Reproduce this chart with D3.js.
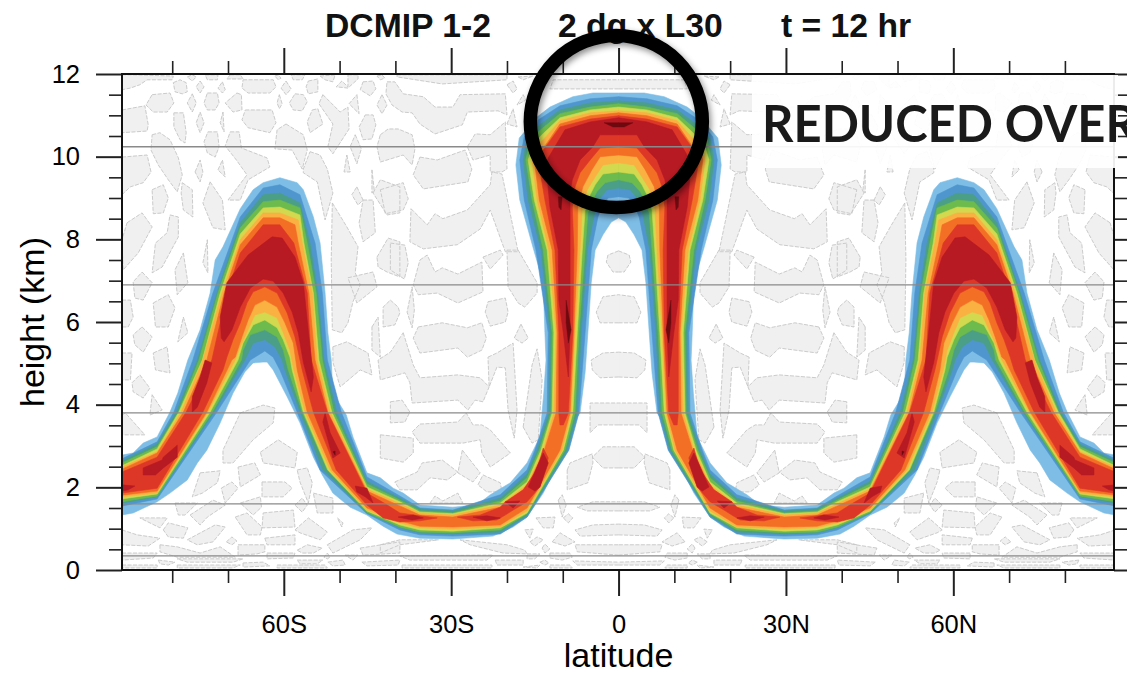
<!DOCTYPE html>
<html>
<head>
<meta charset="utf-8">
<script src="https://cdn.jsdelivr.net/npm/d3@7"></script>
<style>
  html, body { margin: 0; padding: 0; background: #fff; overflow: hidden; }
  text { font-family: "Liberation Sans", Arial, sans-serif; }
</style>
</head>
<body>
<svg id="chart" width="1127" height="673"></svg>
<script>
// all outlines are [lat, height km], southern half only, the north is drawn as its mirror image

const yMajor = [0, 2, 4, 6, 8, 10, 12];
const yMinor = [0.5, 1, 1.5, 2.5, 3, 3.5, 4.5, 5, 5.5, 6.5, 7, 7.5, 8.5, 9, 9.5, 10.5, 11, 11.5];
const xMajor = [-60, -30, 0, 30, 60];
const xMajorLabels = ["60S", "30S", "0", "30N", "60N"];
const xMinor = [-80, -70, -50, -40, -20, -10, 10, 20, 40, 50, 70, 80];
const modelLevels = [10.24, 6.90, 3.80, 1.60, 0.34];
const titleParts = ["DCMIP 1-2", "2 dg x L30", "t = 12 hr"];
const bandColors = ["#7dbde6", "#4f96cf", "#4a9f86", "#6cbb4c", "#d2d94e", "#fbb042", "#f36f25", "#dd3727", "#b71a23", "#6d0a10"];

const band1Top = [[-89,2.78],[-87,2.83],[-85.2,3.07],[-82.7,3.22],[-81.6,3.51],[-80.4,3.82],[-79,4.28],[-77.2,5.08],[-75,5.81],[-73.2,6.7],[-72.3,7.5],[-70.9,7.82],[-67.8,8.74],[-65.5,9.2],[-63.7,9.37],[-60.7,9.49],[-57.6,9.37],[-56.5,9.2],[-54.7,8.54],[-53.5,7.91],[-52.6,6.7],[-52.1,5.74],[-51.5,5.08],[-51.2,4.28],[-48.8,3.75],[-47.6,3.22],[-45.1,2.35],[-42.7,2.23],[-40.4,1.98],[-38.6,1.86],[-35.6,1.57],[-29.7,1.52],[-25.4,1.57],[-23,1.82],[-19.4,2.11],[-16.4,2.59],[-14.1,3.22],[-13.4,4.28],[-13,5.08],[-13.2,5.74],[-13.5,6.95],[-15.3,7.79],[-17.7,8.95],[-18.4,9.8],[-17.8,10.45],[-14.6,10.96],[-12.3,11.2],[-8.2,11.45],[-4.6,11.54],[0,11.54]];
const band1Bottom = [[-89,1.33],[-87,1.38],[-82.7,1.65],[-80.4,1.86],[-77.3,2.18],[-75.5,2.59],[-73.8,2.9],[-71.4,3.56],[-69.1,4.28],[-67,4.79],[-65.5,5.01],[-63.7,5.03],[-63,5.03],[-61.9,4.84],[-59.4,4.19],[-57.1,3.56],[-54.7,2.73],[-53.1,2.3],[-51.2,1.86],[-48.1,1.52],[-45.1,1.33],[-42.2,1.06],[-39.7,0.87],[-35.6,0.77],[-29.7,0.75],[-22.5,0.82],[-18.9,1.04],[-16.4,1.28],[-13.5,1.86],[-11.7,2.35],[-10.1,2.9],[-9,3.39],[-6.9,3.8],[-6,4.77],[-5.5,5.74],[-4.9,6.95],[-4.2,7.74],[-2.8,8.11],[-1.3,8.42],[0,8.52]];
const band2Top = [[-89,2.69],[-82.7,3.1],[-79.7,3.82],[-76.3,5.08],[-72.7,6.7],[-67.8,8.54],[-63.7,9.24],[-60.7,9.32],[-57.1,9.08],[-54.4,7.91],[-53.1,6.7],[-52.2,5.08],[-49.7,3.82],[-45.1,2.25],[-39.2,1.79],[-35.6,1.5],[-29.7,1.45],[-21.2,1.82],[-16.4,2.42],[-15,2.9],[-12.8,3.8],[-12.6,5.74],[-14.8,7.74],[-16.9,8.95],[-17.7,9.92],[-16.9,10.48],[-14.4,10.89],[-10.5,11.23],[-5.1,11.4],[0,11.45]];
const band2Bottom = [[-89,1.55],[-82.7,1.72],[-72,3.82],[-66,5.08],[-63.4,5.3],[-61.9,5.15],[-60.7,4.84],[-57.6,3.82],[-53.5,2.42],[-45.1,1.36],[-39.2,0.97],[-35.6,0.85],[-29.7,0.82],[-21.2,0.87],[-16.4,1.28],[-8.9,2.9],[-7.1,3.8],[-6,5.74],[-4.9,7.74],[-3.7,8.54],[-3,8.78],[-1.9,9],[0,9.03]];
const band3Top = [[-89,2.64],[-82.7,3.05],[-79.3,3.82],[-75.5,5.08],[-72,6.7],[-67.8,8.4],[-63.7,9.08],[-60.7,9.12],[-57.1,8.88],[-55.3,7.91],[-53.9,6.7],[-52.8,5.08],[-50.5,3.82],[-45.1,2.15],[-39.2,1.74],[-35.6,1.48],[-29.7,1.43],[-21.2,1.74],[-16.4,2.32],[-14.6,2.9],[-12.5,3.8],[-12.3,5.74],[-13.9,7.74],[-16.2,8.95],[-17.1,9.92],[-16.4,10.43],[-14.4,10.74],[-10.5,11.13],[-5.1,11.3],[0,11.35]];
const band3Bottom = [[-89,1.62],[-82.7,1.77],[-72.5,3.82],[-67,5.08],[-65.5,5.49],[-63.4,5.57],[-61.6,5.4],[-60.3,5.08],[-59.8,4.84],[-57.1,3.82],[-53,2.42],[-45.1,1.38],[-39.2,1.02],[-35.6,0.9],[-29.7,0.87],[-21.2,0.92],[-16.4,1.31],[-9.2,2.9],[-7.4,3.8],[-6.7,5.74],[-5.6,7.74],[-4.2,8.71],[-3.3,9],[-2.1,9.2],[0,9.24]];
const band4Top = [[-89,2.59],[-82.7,2.98],[-78.9,3.82],[-75.2,5.08],[-71.8,6.7],[-67.8,8.28],[-63.7,8.91],[-60.7,8.95],[-57.1,8.76],[-55.8,7.91],[-54.2,6.7],[-53.1,5.08],[-51,3.82],[-45.1,2.08],[-39.2,1.69],[-35.6,1.43],[-29.7,1.38],[-21.2,1.67],[-16.4,2.23],[-14.2,2.9],[-12.1,3.8],[-11.9,5.74],[-13.5,7.74],[-15.5,8.95],[-16.6,9.92],[-15.9,10.38],[-14.4,10.6],[-10.5,11.04],[-5.1,11.2],[0,11.28]];
const band4Bottom = [[-89,1.65],[-82.7,1.79],[-72.8,3.82],[-67.6,5.08],[-67.3,5.32],[-66,5.69],[-63.4,5.81],[-61.2,5.64],[-60.1,5.32],[-59.2,4.84],[-56.7,3.82],[-52.2,2.42],[-45.1,1.4],[-39.2,1.04],[-35.6,0.92],[-29.7,0.9],[-21.2,0.97],[-16.4,1.36],[-9.6,2.9],[-7.8,3.8],[-7.1,5.74],[-6,7.74],[-5.5,8.64],[-4.8,8.91],[-3.9,9.15],[-2.4,9.37],[0,9.44]];
const band5Top = [[-89,2.52],[-82.7,2.93],[-78.8,3.82],[-74.6,5.08],[-71.4,6.7],[-67.8,8.13],[-63.7,8.76],[-60.7,8.78],[-57.1,8.59],[-56.4,7.91],[-54.7,6.7],[-53.7,5.08],[-51.4,3.82],[-45.1,2.01],[-39.2,1.65],[-35.6,1.4],[-29.7,1.36],[-21.2,1.62],[-16.4,2.13],[-13.9,2.9],[-11.9,3.8],[-11.6,5.74],[-12.8,7.74],[-15.1,8.95],[-16.2,9.92],[-15.3,10.31],[-14.1,10.48],[-10.5,10.94],[-5.1,11.13],[0,11.2]];
const band5Bottom = [[-89,1.72],[-82.7,1.84],[-73.2,3.82],[-68.2,5.08],[-67.3,5.49],[-65.5,5.93],[-63.4,6.05],[-61.2,5.86],[-60.1,5.57],[-58.9,5.15],[-58.5,4.84],[-56.5,3.82],[-52.1,2.42],[-45.1,1.43],[-39.2,1.09],[-35.6,0.97],[-29.7,0.94],[-21.2,1.02],[-16.4,1.38],[-9.9,2.9],[-8.2,3.8],[-7.4,5.74],[-6.5,7.74],[-6,8.71],[-5.1,9.08],[-4.2,9.32],[-2.8,9.58],[0,9.63]];
const band6Top = [[-89,2.49],[-82.7,2.86],[-78.4,3.82],[-74.5,5.08],[-71.1,6.7],[-67.8,7.99],[-63.7,8.64],[-60.7,8.64],[-57.4,8.47],[-56.7,7.91],[-54.9,6.7],[-54,5.08],[-51.7,3.82],[-45.1,1.96],[-39.2,1.6],[-35.6,1.38],[-29.7,1.33],[-21.2,1.57],[-16.4,2.06],[-13.5,2.9],[-11.6,3.8],[-11.2,5.74],[-12.5,7.74],[-14.6,8.95],[-15.5,9.92],[-15,10.26],[-13.7,10.38],[-10.5,10.87],[-5.1,11.06],[0,11.11]];
const band6Bottom = [[-89,1.77],[-82.7,1.86],[-73.6,3.82],[-68.7,5.08],[-67.8,5.4],[-66.4,5.81],[-65.2,6.17],[-63.4,6.24],[-61.2,6.1],[-60.1,5.74],[-58.9,5.32],[-58.2,4.84],[-56.2,3.82],[-51.7,2.42],[-45.1,1.45],[-39.2,1.14],[-35.6,1.02],[-29.7,0.99],[-21.2,1.04],[-16.4,1.43],[-10.1,2.9],[-8.5,3.8],[-7.8,5.74],[-6.9,7.74],[-6.5,8.78],[-5.6,9.2],[-4.2,9.51],[-2.8,9.8],[0,9.85]];
const band7Top = [[-89,2.44],[-82.7,2.83],[-78,3.82],[-73.8,5.08],[-70.7,6.7],[-67.8,7.87],[-63.7,8.52],[-60.7,8.52],[-58,8.35],[-57.4,7.91],[-55.5,6.7],[-54.4,5.08],[-52.1,3.82],[-45.1,1.91],[-39.2,1.55],[-35.6,1.33],[-29.7,1.28],[-21.2,1.52],[-16.4,2.01],[-13.3,2.9],[-11.2,3.8],[-11,5.74],[-11.9,7.74],[-14.2,8.95],[-15.1,9.92],[-14.6,10.19],[-13.2,10.26],[-10.5,10.79],[-5.1,10.99],[0,11.06]];
const band7Bottom = [[-89,1.81],[-82.7,1.91],[-73.8,3.82],[-69.3,5.08],[-68.7,5.15],[-67.5,5.64],[-66.4,6.05],[-65.2,6.41],[-63.4,6.53],[-61.2,6.36],[-59.8,5.98],[-58.3,5.49],[-57.6,4.84],[-55.8,3.82],[-51.3,2.42],[-45.1,1.5],[-39.2,1.19],[-35.6,1.06],[-29.7,1.04],[-21.2,1.09],[-16.4,1.5],[-10.5,2.9],[-8.7,3.8],[-8,5.74],[-7.4,7.74],[-7.3,8.78],[-6.4,9.27],[-4.8,9.68],[-3.3,10],[0,10.04]];

const band8Patches = [
  [[-89,2.37],[-82.7,2.73],[-77.5,3.82],[-72.9,5.08],[-70.2,6.7],[-67.8,7.67],[-63.7,8.35],[-60.7,8.35],[-58.2,7.91],[-55.8,6.7],[-55.1,5.08],[-52.2,3.82],[-45.1,1.86],[-41.8,1.6],[-39.2,1.38],[-35.6,1.31],[-32.5,1.26],[-35.6,1.19],[-39.2,1.16],[-42.2,1.26],[-45.1,1.57],[-50.6,2.42],[-54.7,3.82],[-56.7,4.84],[-57.1,5.08],[-58,5.64],[-59.4,6.22],[-61.2,6.7],[-63.4,6.85],[-65.5,6.73],[-66.6,6.46],[-67.8,5.98],[-69.1,5.57],[-70.2,5.15],[-70.9,4.84],[-74.5,3.82],[-82.7,1.98],[-89,1.86]],
  [[-28.9,1.28],[-24.8,1.33],[-21.2,1.52],[-20.3,1.65],[-17.1,1.94],[-15,2.35],[-14.1,2.66],[-13.5,2.95],[-12.6,2.71],[-14.1,2.01],[-16.4,1.65],[-18.9,1.45],[-20.3,1.33],[-21.8,1.21],[-26.1,1.19]],
  [[-10.5,3.51],[-10.7,3.8],[-10.7,5.74],[-11.4,7.74],[-13.2,8.95],[-14.4,9.92],[-13.7,10.12],[-10.5,10.72],[-5.1,10.91],[0,10.99],[0,10.24],[-3.3,10.21],[-5.1,9.92],[-6.9,9.61],[-7.8,9.27],[-8.3,8.78],[-8,7.74],[-8.2,5.74],[-9,3.8],[-9.9,3.51]]
];
const band9Patches = [
  [[-62.1,8.06],[-60.3,8.03],[-58,7.57],[-56.5,6.95],[-56,6.29],[-55.3,5.4],[-54.7,4.67],[-55.1,4.31],[-56.5,5.03],[-57.4,5.74],[-58.5,6.24],[-60.1,6.7],[-61.9,6.99],[-63.7,7.04],[-66,6.82],[-67.8,6.36],[-69.3,5.81],[-70.7,5.52],[-71.2,5.61],[-71.4,6.12],[-70.2,6.95],[-67.5,7.43],[-66.4,7.62]],
  [[-74.1,5.08],[-72.9,5.01],[-73.8,4.53],[-75.5,3.94],[-76.4,3.82],[-76.4,4.19],[-75,4.67]],
  [[-81.6,2.73],[-79.1,3.02],[-79.1,2.73],[-81.6,2.47],[-83,2.3],[-85.2,2.3],[-85.2,2.47],[-81.8,2.66]],
  [[-89,2.06],[-86.7,2.03],[-87.9,1.94],[-89,1.91]],
  [[-52.6,3.8],[-51.7,3.32],[-49.9,2.83],[-51.2,2.71],[-52.1,3.15],[-53,3.58]],
  [[-47.2,2.03],[-45.1,1.98],[-44,1.62],[-45.4,1.77],[-46.9,1.89]],
  [[-39.5,1.28],[-36.8,1.33],[-35,1.26],[-37,1.21]],
  [[-26.1,1.28],[-23.6,1.31],[-21.2,1.26],[-23.6,1.19]],
  [[-20.3,1.65],[-17.7,1.67],[-18.9,1.5]],
  [[-16.2,2.01],[-13.5,2.83],[-12.6,2.59],[-14.1,2.01],[-15,1.91]],
  [[0,10.94],[-5.1,10.84],[-9.6,10.65],[-12.6,9.97],[-13,9.8],[-12.3,8.78],[-10.8,7.74],[-10.7,6.53],[-9.9,5.74],[-9,4.67],[-8.7,5.74],[-8.7,7.74],[-8.7,9.12],[-8.3,9.44],[-6.9,9.92],[-4.6,10.24],[-3.3,10.53],[0,10.53]]
];
const band10Patches = [
  [[-2.6,10.82],[0,10.82],[0,10.72],[-1,10.72]],
  [[-9.4,6.53],[-9,6.22],[-8.5,5.81],[-9,5.49],[-9.4,5.98]],
  [[-10.8,9.03],[-10.1,9.03],[-10.3,8.71],[-10.7,8.78]],
  [[-51.2,2.86],[-50.8,2.88],[-50.8,2.78]]
];

// slightly negative tracer, the pale dashed cells
const negativeCells = [
  [[-89,11.98],[-87,11.98],[-79.8,11.95],[-80,11.86],[-84.5,11.86],[-85.8,11.74],[-87.5,11.66],[-89,11.62]],
  [[-79.8,11.79],[-78.6,11.86],[-77.5,11.79],[-77.3,11.57],[-78.2,11.52],[-79.5,11.57]],
  [[-75,11.83],[-74.3,11.69],[-75,11.54],[-75.7,11.69]],
  [[-71,11.81],[-70.5,11.62],[-71,11.54],[-71.8,11.66]],
  [[-67.3,11.86],[-61.9,11.86],[-61.4,11.69],[-62.5,11.54],[-66.4,11.54],[-67.5,11.66]],
  [[-76.4,11.98],[-75.7,11.93],[-76.4,11.83],[-77.3,11.93]],
  [[-74.1,11.98],[-71.8,11.98],[-71.9,11.86],[-73.7,11.86]],
  [[-69.6,11.98],[-67.8,11.98],[-67.3,11.88],[-70.2,11.88]],
  [[-89,11.13],[-84.9,11.23],[-84.3,10.77],[-84.5,10.62],[-89,10.58]],
  [[-83.6,11.5],[-80.4,11.54],[-79.7,11.3],[-80.9,11.08],[-83.4,11.08],[-84.7,11.25]],
  [[-76.4,11.52],[-75.7,11.3],[-76.4,11.08],[-77.3,11.3]],
  [[-73.7,11.54],[-71.9,11.54],[-71.6,11.3],[-72.3,11.13],[-73.7,11.13],[-74.3,11.3]],
  [[-68.4,11.54],[-67.6,11.5],[-67.5,11.13],[-69.1,11.08],[-70.5,11.3]],
  [[-60.8,11.5],[-60.3,11.28],[-60.8,11.16],[-61.2,11.3]],
  [[-79.7,11.06],[-78,11.06],[-77.5,10.58],[-77.7,10.33],[-78.6,10.41],[-79.7,10.72]],
  [[-75,11.08],[-74.3,10.82],[-75,10.58],[-75.7,10.82]],
  [[-70.9,11.08],[-70.7,10.6],[-71.4,10.82]],
  [[-66.9,11.13],[-62.1,11.13],[-61.4,10.82],[-62.5,10.58],[-66.4,10.7],[-67.5,10.89]],
  [[-73.6,10.6],[-71.9,10.6],[-71.6,10.24],[-72.3,9.99],[-73.7,10.09],[-74.3,10.36]],
  [[-69.6,10.6],[-68,10.6],[-67.6,10.21],[-63,9.97],[-62.5,9.75],[-66.4,9.44],[-67.8,8.95],[-70,8.95],[-66.6,9.56],[-68.5,9.92],[-70.5,10.26]],
  [[-89,9.99],[-84.5,10.04],[-83.8,9.63],[-85.2,9.37],[-87.5,9.27],[-89,9.08]],
  [[-83.6,10.53],[-82.2,10.58],[-80.4,10.41],[-78.9,9.97],[-78.2,9.56],[-79.1,9.15],[-80.7,9.44],[-82.5,9.8],[-83.8,10.16]],
  [[-83.6,9.2],[-81.6,9.32],[-80.7,9],[-81.6,8.64],[-83.4,8.62]],
  [[-78.2,9.37],[-76.4,9.2],[-76.3,8.54],[-78,8.71],[-78.4,9.12]],
  [[-75.9,9.63],[-75,9.92],[-74.5,9.63],[-75,9.39]],
  [[-73.2,9.39],[-71,8.95],[-70.5,8.23],[-72.7,8.28],[-74.5,8.88]],
  [[-71.8,9.68],[-71,9.92],[-70.5,9.51]],
  [[-61.6,11.95],[-61,11.98],[-60.5,11.9],[-61,11.86]],
  [[-58.7,11.98],[-56.2,11.98],[-56.7,11.86],[-58.3,11.86]],
  [[-53.5,11.95],[-50.8,11.98],[-51.2,11.81],[-52.6,11.86]],
  [[-48.5,11.98],[-46.7,11.98],[-46.7,11.88],[-48.5,11.66],[-50.6,11.69],[-49.6,11.83],[-48.5,11.69]],
  [[-59.6,11.83],[-58.7,11.64],[-59.6,11.5],[-60.5,11.66]],
  [[-55.6,11.83],[-53.9,11.88],[-53.9,11.57],[-55.6,11.52],[-56,11.69]],
  [[-45.8,11.81],[-44,11.83],[-43.5,11.64],[-44.5,11.47],[-46.3,11.62]],
  [[-43.3,11.95],[-42.4,11.98],[-41.9,11.9],[-42.7,11.86]],
  [[-41.5,11.81],[-40.1,11.81],[-38.6,11.52],[-35,11.45],[-32.9,11.2],[-29.7,11.2],[-28.4,11.5],[-20.3,11.52],[-20,11.01],[-21.6,11.11],[-27.1,11.08],[-28,10.77],[-32.9,10.55],[-35.6,10.79],[-37,11.06],[-38.8,11.08],[-40.6,11.25],[-41.7,11.52]],
  [[-39.7,11.98],[-20,11.98],[-20,11.86],[-31.6,11.76],[-39.7,11.93]],
  [[-58,11.52],[-56.5,11.5],[-55.8,11.33],[-56.7,11.11],[-58.3,11.13],[-59,11.3]],
  [[-53,11.5],[-49.9,11.08],[-48.5,11.2],[-48.3,10.67],[-51.2,10.07],[-52.1,10.24],[-51.2,10.79],[-53.7,11.28]],
  [[-46.9,11.5],[-46.5,11.04],[-48.3,11.28]],
  [[-42.4,11.5],[-41.5,11.25],[-42.4,11.04],[-43.3,11.25]],
  [[-54.9,11.13],[-53.9,11.16],[-53,10.79],[-55.3,10.58],[-55.8,10.84]],
  [[-45.4,11.01],[-44,11.01],[-43.5,10.77],[-44.2,10.43],[-45.8,10.41],[-46.5,10.72]],
  [[-59.6,10.79],[-56.5,10.53],[-55.8,10.16],[-56.7,9.7],[-58.5,10.16],[-61.6,10.19],[-61.2,10.65]],
  [[-47.2,10.53],[-46.1,10.19],[-46.9,9.83],[-48.1,10.24]],
  [[-42.7,10.53],[-41.3,10.67],[-39.5,10.67],[-37,10.53],[-36.5,10.19],[-37,9.8],[-38.6,10.04],[-42.7,9.87],[-43.3,10.24]],
  [[-55.3,10.12],[-53.5,10.04],[-52.2,9.7],[-51.2,9.12],[-52.6,8.47],[-54,9.39],[-56.5,9.61],[-56.5,9.7]],
  [[-48.7,10.04],[-48.1,9.63],[-49.2,9.63]],
  [[-27.1,10.24],[-25.7,10.55],[-23,10.53],[-20.3,10.84],[-20,9.7],[-20.9,9.63],[-23,9.63],[-23,10.04],[-26.1,9.92]],
  [[-35.6,9.99],[-32.5,9.92],[-27.5,10.16],[-26.3,9.7],[-27,9.39],[-35,9.22],[-36.8,9.56]],
  [[-42.7,9.2],[-38.6,9.37],[-37.7,8.98],[-38.6,8.71],[-41.8,8.62]],
  [[-37.2,8.74],[-34.3,8.35],[-32.9,8.62],[-31.5,8.5],[-27.1,8.71],[-23,9.32],[-22.7,9.63],[-20.9,9.58],[-18,7.7],[-20.3,7.7],[-23,8.71],[-24.8,8.25],[-28.9,7.87],[-35,7.77],[-37.4,7.94]],
  [[-20,11.74],[-18.9,11.83],[-18.2,11.64],[-18.9,11.54]],
  [[-18.2,11.25],[-17.1,11.5],[-16.6,11.37]],
  [[-20,10.79],[-18.9,11.16],[-18.2,10.72]],
  [[-18,11.93],[-15.3,11.95],[-17.1,11.86]],
  [[-11.7,11.86],[0,11.86],[0,11.64],[-12.3,11.64]],
  [[-40.9,7.91],[-38.3,7.86],[-37.7,7.43],[-38.4,7.04],[-40.9,7.26]],
  [[-35.6,7.5],[-34.3,7.62],[-32.9,7.21],[-31.6,7.31],[-28.8,7.16],[-24.5,7.45],[-24.3,6.73],[-28.8,6.46],[-32.5,6.7],[-35.9,6.66],[-36.8,6.9]],
  [[-24.3,7.57],[-21.2,7.74],[-20.7,7.62],[-23,7.28]],
  [[-20,7.74],[-18,7.74],[-14.6,6.95],[-14.6,6.7],[-16.8,6.36],[-18,6.46],[-19.8,6.85]],
  [[-40.9,6.53],[-39.5,6.36],[-39.2,6.22],[-40.1,5.93],[-42.2,5.88],[-42.2,6.36]],
  [[-37,6.85],[-36.6,6.29],[-37,5.86],[-37.9,6.24]],
  [[-35.9,5.88],[-31.6,5.98],[-27.1,5.86],[-24.5,5.98],[-23.7,5.61],[-24.5,5.32],[-27.1,5.15],[-28.8,5.37],[-35.6,5.25],[-36.8,5.61]],
  [[-23.4,6.49],[-20.3,6.58],[-19.8,6.24],[-20.3,6],[-23,5.9],[-23.9,6.24]],
  [[-17.5,5.95],[-16.2,5.61],[-17.3,5.49],[-18.7,5.61]],
  [[-38.6,5.74],[-36.8,4.96],[-35.6,4.65],[-28.8,4.72],[-24.8,4.65],[-23.2,4.43],[-24.3,4.07],[-25.7,4.11],[-27,3.87],[-28.8,4.11],[-37,4.04],[-37.4,4.53],[-38.3,4.77],[-42.7,4.6],[-43.1,5.08],[-40.9,5.27]],
  [[-23.4,5.15],[-21.8,5.25],[-18.9,5.49],[-18.2,3.87],[-18.7,3.19],[-19.8,3.87],[-20.3,4.89],[-21.8,4.91],[-23.2,4.43]],
  [[-40.9,4.07],[-38.8,4.11],[-37.4,3.82],[-38.3,3.58],[-40.9,3.56]],
  [[-35.6,3.53],[-28.8,3.58],[-27.3,3.8],[-26.1,3.51],[-24.5,3.51],[-23,3.39],[-19.4,2.83],[-23,2.49],[-24.5,2.83],[-24.8,3.15],[-27.9,3.07],[-35.6,3.07],[-37,3.34]],
  [[-17.1,3.46],[-15.5,4.96],[-14.6,5.35],[-13.7,4.6],[-14.4,3.15],[-15.5,3.07]],
  [[0,7.72],[-1.9,7.62],[-2.2,7.45],[-1,7.21],[0,7.21]],
  [[-2.8,6.61],[0,6.66],[0,5.98],[-3.3,5.98],[-4,6.24]],
  [[-2.8,5.25],[0,5.27],[0,4.67],[-3.3,4.65],[-4.7,4.84],[-4.9,5.08]],
  [[-5.1,4.04],[0,4.04],[0,3.51],[-3.7,3.51],[-5.1,3.32]],
  [[-4.7,2.73],[-2.8,2.98],[0,2.98],[0,2.47],[-2.8,2.47]],
  [[-9.2,2.42],[-8.7,2.59],[-4.7,2.81],[-4.6,2.59],[-5.5,2.11],[-9.2,1.94]],
  [[-7.4,1.52],[-4.6,1.65],[0,1.65],[0,1.43],[-5.6,1.43]],
  [[-7.8,0.97],[-4.6,1.09],[0,1.11],[0,0.85],[-6.9,0.82]],
  [[-7.8,0.61],[0,0.61],[0,0.36],[-7.4,0.44]],
  [[-8.2,0.22],[0,0.19],[0,0.12],[-7.4,0.12]],
  [[-11.9,0.68],[-10.5,0.9],[-7.8,0.68],[-9.6,0.58]],
  [[-14.8,1.26],[-11.4,1.28],[-11.7,1.02],[-13.5,1.02]],
  [[-9.9,1.26],[-9,1.36],[-8.2,1.26],[-9,1.14]],
  [[-10.8,1.69],[-10.1,1.82],[-9.4,1.57],[-10.1,1.28]],
  [[-16.8,0.97],[-15.3,0.99],[-15.9,0.77]],
  [[-15.9,0.68],[-14.6,0.8],[-13.5,0.73],[-15,0.58]],
  [[-13.7,0.53],[-13.2,0.63],[-12.3,0.51],[-13.2,0.41]],
  [[-12.3,0.41],[-8.7,0.41],[-8.3,0.31],[-10.1,0.24],[-12.3,0.29]],
  [[-12.3,0.12],[-8.7,0.12],[-8.3,0.05],[-12.3,0.05]],
  [[-14.1,0.19],[-13.2,0.24],[-12.5,0.17],[-13.2,0.12]],
  [[-16.4,0.39],[-14.1,0.39],[-15,0.27],[-16.4,0.27]],
  [[-17.1,0.07],[-14.1,0.12],[-14.6,0.05]],
  [[-22.1,0.24],[-17.1,0.24],[-17.1,0.12],[-21.8,0.12]],
  [[-38.8,0.12],[-22.7,0.12],[-22.7,0.05],[-38.8,0.05]],
  [[-39.2,0.34],[-22.5,0.36],[-23.6,0.24],[-37.4,0.24]],
  [[-28.4,0.73],[-20,0.61],[-16.8,0.48],[-16.4,0.39],[-20.7,0.41],[-26.6,0.61]],
  [[-42.7,0.61],[-39.2,0.73],[-32.3,0.73],[-39.2,0.61],[-42.7,0.41]],
  [[-42.7,3.27],[-36.8,3.19],[-36.8,2.83],[-38.6,2.61],[-42.7,2.71]],
  [[-40.1,2.13],[-36.1,2.37],[-35.2,2.59],[-31.6,2.66],[-28.8,2.37],[-30.7,2.18],[-33.8,2.23],[-36.1,1.94],[-39.2,1.94]],
  [[-28,2.9],[-24.8,2.35],[-26.1,2.13],[-28.8,2.35]],
  [[-25.2,2.06],[-24.3,2.3],[-21.2,2.11],[-20.9,1.89],[-23.6,1.89]],
  [[-33.8,1.62],[-32.9,1.79],[-31.5,1.67],[-28.8,1.86],[-27.9,1.62]],
  [[-88.1,8.4],[-85.4,8.64],[-83.6,8.3],[-86.1,7.67],[-88.8,7.26],[-89,7.99]],
  [[-80.4,8.59],[-78.9,8.54],[-78.9,8.06],[-81.8,7.33],[-83.6,7.19],[-83,7.91],[-80.9,8.16]],
  [[-73.7,7.99],[-73.6,7.19],[-74.5,7.43]],
  [[-78,7.67],[-77.2,6.95],[-79.1,6.66],[-79.5,7.26]],
  [[-85.4,7.21],[-83.6,6.95],[-85.2,6.53],[-86.7,6.58],[-87,6.97]],
  [[-89,6.53],[-87.5,6.53],[-87,6.12],[-87.9,5.88],[-89,5.88]],
  [[-83.4,6.46],[-80.7,6.66],[-79.5,6.34],[-80.7,5.88],[-83,5.88]],
  [[-78,6.12],[-77.2,5.74],[-79,5.52]],
  [[-85.4,5.88],[-83.6,5.64],[-85.2,5.27],[-86.7,5.45],[-87,5.69]],
  [[-83.4,5.25],[-80.9,5.4],[-80.4,4.77],[-83,4.84]],
  [[-89,5.25],[-87.2,5.25],[-87.5,4.6],[-89,4.6]],
  [[-85.8,4.72],[-84,4.4],[-85.2,4.16],[-87,4.31],[-87.2,4.53]],
  [[-83.6,4.24],[-81.8,3.87],[-84,3.75]],
  [[-89,3.75],[-88.4,3.8],[-84.9,3.27],[-89,3.27]],
  [[-51.3,8.88],[-48.7,8.3],[-46.7,7.82],[-47.2,7.19],[-46.3,6.9],[-47.6,6.49],[-48.5,5.98],[-49.6,5.74],[-51.3,5.81],[-51.5,7.5]],
  [[-46.9,9.27],[-45.8,8.95],[-46.7,8.83],[-47.8,9.08]],
  [[-45.8,8.95],[-44,8.95],[-43.6,8.16],[-45.8,7.94],[-46.5,8.4]],
  [[-44,9.12],[-42.7,9.44],[-39.2,9.27],[-39.2,8.64],[-41.5,8.59]],
  [[-44.2,9.68],[-43.8,9.2],[-44.2,9.12]],
  [[-43.3,7.57],[-41.3,8.03],[-39.2,7.94],[-39.2,7.09],[-41.5,7.21],[-43.1,7.33]],
  [[-48.5,7.07],[-44,7.21],[-43.3,6.85],[-46.9,6.46]],
  [[-44.2,5.88],[-43.1,6.12],[-42.7,5.15],[-44.2,5.32]],
  [[-51.2,5.4],[-48.7,5.52],[-44.9,5.25],[-44.2,4.72],[-46.3,4.84],[-49.9,4.43],[-51.2,5.03]],
  [[-67.8,3.8],[-63.7,3.99],[-61.6,3.92],[-61.9,3.56],[-65.5,3.15],[-69.1,2.59],[-70.9,2.59],[-70.9,2.9]],
  [[-64.2,2.85],[-61,3.15],[-57.6,2.85],[-58,2.47],[-63.7,2.59]],
  [[-68.2,2.49],[-65.2,2.59],[-64.2,2.3],[-67.8,2.01]],
  [[-75,2.35],[-71.4,2.4],[-71.9,2.11],[-74.6,1.86],[-76.4,1.77]],
  [[-71.2,1.98],[-69.3,2.13],[-68.2,1.98],[-70.5,1.62]],
  [[-63.9,2.13],[-59.8,2.13],[-58.5,1.98],[-60.1,1.77],[-63.9,1.77]],
  [[-57.6,2.42],[-55.8,2.47],[-54.9,2.11],[-55.6,1.62],[-57.1,2.13]],
  [[-79.5,1.62],[-75.5,1.62],[-77.7,1.33],[-78.9,1.33]],
  [[-76.8,1.33],[-72.7,1.69],[-70.5,1.57],[-73.7,1.28],[-75,1.09]],
  [[-67.8,1.62],[-64.2,1.77],[-64,1.52],[-65.5,1.33]],
  [[-58,1.57],[-56.7,1.74],[-55.8,1.57],[-56.7,1.4]],
  [[-54.7,1.86],[-51.2,1.74],[-51.2,1.38],[-54,1.38]],
  [[-50.4,1.26],[-49.4,1.14],[-49.6,1.04]],
  [[-85.8,1.26],[-80.9,1.26],[-82.2,1.02]],
  [[-81.6,0.97],[-80.7,1.14],[-77.2,1.02],[-78,0.77],[-80.7,0.8]],
  [[-89,0.97],[-86.3,0.85],[-82.2,0.77],[-84.3,0.58],[-89,0.61]],
  [[-77.3,0.73],[-72.3,1.09],[-70.5,1.04],[-72.7,0.68],[-75.5,0.61]],
  [[-70.3,0.68],[-69.3,0.8],[-68.4,0.7],[-69.3,0.61]],
  [[-68.7,1.28],[-66.6,1.38],[-63.9,1.04],[-64.2,0.85],[-66.6,0.85]],
  [[-63.7,1.38],[-58.3,1.45],[-58,1.04],[-63.9,1.02]],
  [[-63.4,0.77],[-58,0.85],[-58,0.61],[-63,0.61]],
  [[-58,0.97],[-55.6,1.26],[-52.2,0.92],[-53.5,0.73],[-57.1,0.9]],
  [[-52.2,0.61],[-47.6,0.97],[-44.2,1.02],[-46.3,0.73],[-51.2,0.41]],
  [[-57.6,0.48],[-55.8,0.61],[-53.1,0.53],[-54.7,0.41],[-56.7,0.41]],
  [[-68.2,0.61],[-63.4,0.61],[-63.4,0.44],[-64.8,0.39],[-68.2,0.36]],
  [[-82.2,0.61],[-79.1,0.56],[-75,0.41],[-71.4,0.56],[-68.7,0.31],[-79.1,0.31],[-82.2,0.44]],
  [[-89,0.41],[-82.7,0.41],[-83.4,0.29],[-89,0.24]],
  [[-82.5,0.24],[-79.5,0.19],[-80.7,0.12],[-82.2,0.15]],
  [[-79.1,0.27],[-67.3,0.27],[-69.1,0.19],[-77.3,0.19]],
  [[-79.1,0.12],[-67.8,0.12],[-69.1,0.05],[-79.1,0.05]],
  [[-89,0.12],[-82.7,0.12],[-82.7,0.05],[-89,0.05]],
  [[-67.3,0.17],[-63.7,0.19],[-62.5,0.1],[-67.3,0.07]],
  [[-63,0.41],[-58,0.41],[-58.3,0.29],[-63,0.27]],
  [[-57.6,0.24],[-53,0.24],[-54,0.15],[-57.1,0.15]],
  [[-61.2,0.12],[-52.6,0.12],[-52.2,0.05],[-61.2,0.05]],
  [[-52.2,0.41],[-51.7,0.31],[-52.2,0.27],[-52.8,0.31]],
  [[-52.1,0.19],[-49.4,0.24],[-49,0.12],[-51.2,0.1]],
  [[-49,0.36],[-46.7,0.36],[-47.6,0.24]],
  [[-46.3,0.53],[-39.2,0.68],[-39.2,0.41],[-45.8,0.36]],
  [[-46,0.19],[-39.2,0.24],[-39.5,0.12],[-45.1,0.1]]
];

const width = 1127, height = 673;
const left = 122, right = 1114, top_ = 74, bottom = 570;

const x = d3.scaleLinear().domain([-89, 88.8]).range([left, right]);
const y = d3.scaleLinear().domain([0, 12]).range([bottom, top_]);
const svg = d3.select("#chart");

const defs = svg.append("defs");
defs.append("clipPath").attr("id", "plotClip").append("rect")
    .attr("x", left).attr("y", top_).attr("width", right - left).attr("height", bottom - top_);
const shadow = defs.append("filter").attr("id", "ringShadow")
    .attr("x", "-20%").attr("y", "-20%").attr("width", "140%").attr("height", "140%");
shadow.append("feDropShadow").attr("dx", 2).attr("dy", 3).attr("stdDeviation", 3)
    .attr("flood-color", "#000").attr("flood-opacity", 0.45);

const plot = svg.append("g").attr("clip-path", "url(#plotClip)");

function outline(sign){
    return d3.line().x(d => x(sign * d[0])).y(d => y(d[1])).curve(d3.curveLinearClosed);
}
function openLine(sign){
    return d3.line().x(d => x(sign * d[0])).y(d => y(d[1]));
}

// a cell that reaches the equator must not get a dashed edge along lat 0
function edgeOf(cell){
    const n = cell.length;
    const i = cell.findIndex((d, k)=> d[0] === 0 && cell[(k + 1) % n][0] === 0);
    if (i < 0) return cell.concat([cell[0]]);
    const start = (i + 1) % n;
    return cell.slice(start).concat(cell.slice(0, start));
}

// every half outline goes in twice, once for each hemisphere
function drawPolys(polys, fill, strokeWidth){
    [1, -1].forEach(sign=>{
        plot.append("g").selectAll("path")
            .data(polys)
            .enter().append("path")
            .attr("d", outline(sign))
            .attr("fill", fill)
            .attr("stroke", fill)
            .attr("stroke-width", strokeWidth);
    });
}

drawPolys(negativeCells, "#f0f0f0", 0.4);
[1, -1].forEach(sign=>{
    plot.append("g").selectAll("path")
        .data(negativeCells.map(edgeOf))
        .enter().append("path")
        .attr("d", openLine(sign))
        .attr("fill", "none")
        .attr("stroke", "#c6c6c6")
        .attr("stroke-width", 0.9)
        .attr("stroke-dasharray", "4 1.5");
});

const ribbons = [
    band1Top.concat(band1Bottom.slice().reverse()),
    band2Top.concat(band2Bottom.slice().reverse()),
    band3Top.concat(band3Bottom.slice().reverse()),
    band4Top.concat(band4Bottom.slice().reverse()),
    band5Top.concat(band5Bottom.slice().reverse()),
    band6Top.concat(band6Bottom.slice().reverse()),
    band7Top.concat(band7Bottom.slice().reverse())
];
ribbons.forEach((r, i)=>{ drawPolys([r], bandColors[i], 0.6); });
drawPolys(band8Patches, bandColors[7], 0.6);
drawPolys(band9Patches, bandColors[8], 0.6);
drawPolys(band10Patches, bandColors[9], 0.4);

// model levels
plot.selectAll(".level")
    .data(modelLevels)
    .enter().append("line")
    .attr("class", "level")
    .attr("x1", left).attr("x2", right)
    .attr("y1", d => y(d)).attr("y2", d => y(d))
    .attr("stroke", "#8a8a8a").attr("stroke-width", 1.3);

function styleAxis(g, size){
    g.attr("font-size", null).attr("font-family", null);
    g.select(".domain").remove();
    g.selectAll("line").attr("stroke", "#222").attr("stroke-width", size);
}

const tickFont = 25.5;
const gLeft = svg.append("g").attr("transform", `translate(${left},0)`)
    .call(d3.axisLeft(y).tickValues(yMajor).tickSize(26).tickPadding(16).tickFormat(d3.format("d")))
    .call(styleAxis, 2);
gLeft.selectAll("text").attr("font-size", tickFont).attr("fill", "#000");
svg.append("g").attr("transform", `translate(${left},0)`)
    .call(d3.axisLeft(y).tickValues(yMinor).tickSize(13).tickFormat(""))
    .call(styleAxis, 1.6);

svg.append("g").attr("transform", `translate(${right},0)`)
    .call(d3.axisRight(y).tickValues(yMajor).tickSize(26).tickFormat(""))
    .call(styleAxis, 2);
svg.append("g").attr("transform", `translate(${right},0)`)
    .call(d3.axisRight(y).tickValues(yMinor).tickSize(13).tickFormat(""))
    .call(styleAxis, 1.6);

const gBottom = svg.append("g").attr("transform", `translate(0,${bottom})`)
    .call(d3.axisBottom(x).tickValues(xMajor).tickSize(26).tickPadding(19).tickFormat((d, i)=>xMajorLabels[i]))
    .call(styleAxis, 2);
gBottom.selectAll("text").attr("font-size", tickFont).attr("fill", "#000");
svg.append("g").attr("transform", `translate(0,${bottom})`)
    .call(d3.axisBottom(x).tickValues(xMinor).tickSize(13).tickFormat(""))
    .call(styleAxis, 1.6);

svg.append("g").attr("transform", `translate(0,${top_})`)
    .call(d3.axisTop(x).tickValues(xMajor).tickSize(26).tickFormat(""))
    .call(styleAxis, 2);
svg.append("g").attr("transform", `translate(0,${top_})`)
    .call(d3.axisTop(x).tickValues(xMinor).tickSize(13).tickFormat(""))
    .call(styleAxis, 1.6);

svg.append("rect")
    .attr("x", left).attr("y", top_).attr("width", right - left).attr("height", bottom - top_)
    .attr("fill", "none").attr("stroke", "#111").attr("stroke-width", 2);

svg.append("text").attr("x", x(0)).attr("y", 667).attr("text-anchor", "middle")
    .attr("font-size", 34).text("latitude");
svg.append("text").attr("transform", "translate(44,322) rotate(-90)").attr("text-anchor", "middle")
    .attr("font-size", 34).text("height (km)");

const titleX = [325, 558, 781];
svg.selectAll(".title")
    .data(titleParts)
    .enter().append("text")
    .attr("class", "title")
    .attr("x", (d, i) => titleX[i]).attr("y", 37)
    .attr("font-size", 33.7).attr("font-weight", 700).attr("fill", "#111")
    .text(d => d);

// pasted banner over the upper right of the plot
svg.append("rect").attr("x", 752).attr("y", top_ + 1).attr("width", 366).attr("height", 93)
    .attr("fill", "#fff").attr("opacity", 0.92);
svg.append("text").attr("transform", "translate(762,142) scale(0.96,1)")
    .style("font-family", "Lato, 'Open Sans', sans-serif")
    .attr("font-size", 51).attr("font-weight", 700).attr("fill", "#1a1a1a")
    .text("REDUCED OVER");

// the ring around the tropopause cap
svg.append("circle").attr("cx", x(-0.4)).attr("cy", y(10.85)).attr("r", 86)
    .attr("fill", "none").attr("stroke", "#000").attr("stroke-width", 13.5)
    .attr("filter", "url(#ringShadow)");
</script>
</body>
</html>
